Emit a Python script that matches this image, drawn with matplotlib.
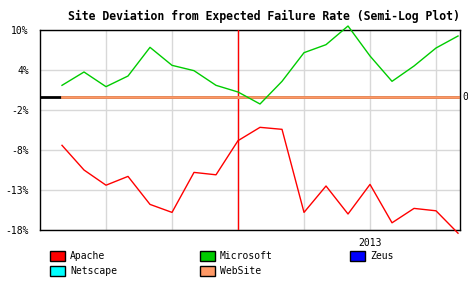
import numpy as np
import matplotlib
matplotlib.use('Agg')
import matplotlib.pyplot as plt
from matplotlib.patches import Rectangle

# deviation values in percent, one point per period
apache = [-7.3, -10.5, -12.4, -11.3, -14.8, -15.8, -10.8, -11.1, -6.6, -4.6, -4.9,
          -15.8, -12.5, -16.0, -12.3, -17.1, -15.3, -15.6, -18.4]
microsoft = [1.7, 3.7, 1.5, 3.1, 7.4, 4.7, 3.9, 1.7, 0.7, -1.1, 2.3,
             6.6, 7.8, 10.6, 6.1, 2.3, 4.6, 7.3, 9.1]
website = [0.0] * 19
ytick_vals = [-18, -13, -8, -2, 4, 10]
ytick_labels = ['-18%', '-13%', '-8%', '-2%', '4%', '10%']
year_label = '2013'
year_idx = 14
marker_idx = 8
legend_names = ['Apache', 'Microsoft', 'Zeus', 'Netscape', 'WebSite']
legend_colors = ['#FF0000', '#00CC00', '#0000FF', '#00FFFF', '#FF9966']

x = np.arange(len(apache))

# piecewise "semi-log" scale: ticks equally spaced
knots = [-100] + ytick_vals + [100]
pos = [-16.4, 0, 1, 2, 3, 4, 5, 20]

def fwd(v):
    return np.interp(v, knots, pos)

def inv(p):
    return np.interp(p, pos, knots)

fig = plt.figure(figsize=(4.68, 3.0), dpi=100)
ax = fig.add_axes([40 / 468, 70 / 300, 420 / 468, 200 / 300])
ax.set_yscale('function', functions=(fwd, inv))
ax.set_ylim(-18, 10)
ax.set_xlim(-1, 18.09)

mono = 'DejaVu Sans Mono'
ax.set_yticks(ytick_vals)
ax.set_yticklabels(ytick_labels, family=mono, fontsize=7)
ax.tick_params(axis='y', length=0, pad=8)
ax.set_xticks([2, 5, 8, 11, 14, 17])
ax.set_xticklabels([])
ax.tick_params(axis='x', length=0)
ax.grid(True, color='#D8D8D8', lw=1)
ax.set_axisbelow(True)
for s in ax.spines.values():
    s.set_color('black')
    s.set_linewidth(1)

ax.axhline(0, color='black', lw=2, zorder=2)
ax.axvline(marker_idx, color='#FF0000', lw=1, zorder=3)
ax.plot(x, website, color=legend_colors[4], lw=2, zorder=4, clip_on=False)
ax.plot(x, microsoft, color=legend_colors[1], lw=1, zorder=5, clip_on=False)
ax.plot(x, apache, color=legend_colors[0], lw=1, zorder=5, clip_on=False)

ax.text(1.005, fwd(0) / 5, '0', transform=ax.transAxes, family=mono, fontsize=7,
        ha='left', va='center')
ax.text(year_idx, -0.04, year_label, transform=ax.get_xaxis_transform(),
        family=mono, fontsize=7, ha='center', va='top')

fig.text(460 / 468, 1 - 16 / 300, 'Site Deviation from Expected Failure Rate (Semi-Log Plot)',
         family=mono, fontsize=8.3, fontweight='bold', ha='right', va='center')

# legend drawn by hand in a 3 column grid
for i, (name, col) in enumerate(zip(legend_names, legend_colors)):
    cx = 50 + 150 * (i % 3)
    cy = 251 + 15 * (i // 3)
    fig.patches.append(Rectangle((cx / 468, 1 - (cy + 10) / 300), 15 / 468, 10 / 300,
                                 transform=fig.transFigure, facecolor=col,
                                 edgecolor='black', lw=1))
    fig.text((cx + 20) / 468, 1 - (cy + 5) / 300, name, family=mono, fontsize=7,
             ha='left', va='center')

fig.savefig('out.png', dpi=100)
